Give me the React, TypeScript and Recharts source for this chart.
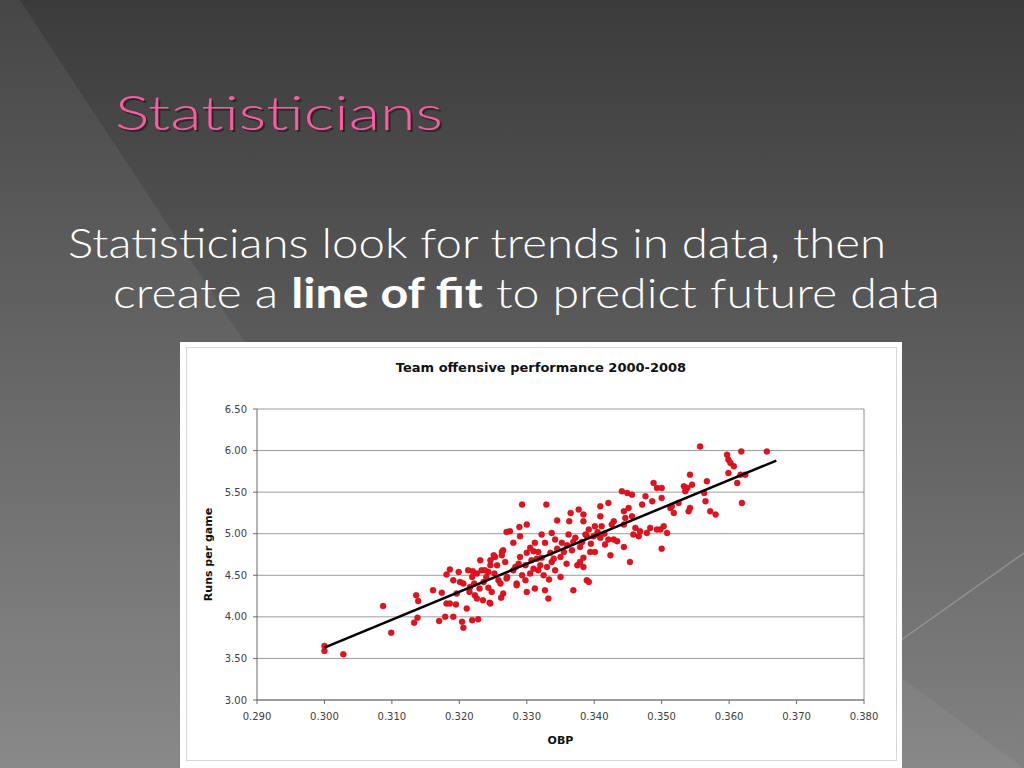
import { CartesianGrid, ReferenceLine, Scatter, ScatterChart, XAxis, YAxis } from "recharts";

// team OBP vs runs per game
const obp = [
  0.3, 0.3, 0.3028, 0.3087, 0.3099, 0.3136, 0.3139, 0.3138, 0.3133, 0.3161,
  0.317, 0.3174, 0.3181, 0.3186, 0.3181, 0.3186, 0.3179, 0.3191, 0.3199, 0.3191,
  0.3196, 0.3195, 0.3201, 0.3206, 0.3204, 0.3206, 0.3211, 0.3213, 0.3216, 0.3219,
  0.3219, 0.3223, 0.3226, 0.3228, 0.3226, 0.3231, 0.3233, 0.3236, 0.3243, 0.3245,
  0.3243, 0.3246, 0.3253, 0.3258, 0.3261, 0.3265, 0.3265, 0.3263, 0.3268, 0.3271,
  0.328, 0.3283, 0.3285, 0.3293, 0.3329, 0.3365, 0.3377, 0.3363, 0.3345, 0.33,
  0.3289, 0.3275, 0.327, 0.329, 0.3322, 0.3337, 0.3327, 0.3312, 0.331, 0.33,
  0.3305, 0.3317, 0.3322, 0.3335, 0.3337, 0.3342, 0.3352, 0.335, 0.3362, 0.3369,
  0.3379, 0.3367, 0.3359, 0.3375, 0.3379, 0.3389, 0.3369, 0.3389, 0.3392, 0.3401,
  0.3404, 0.3251, 0.3246, 0.3263, 0.3256, 0.3238, 0.327, 0.328, 0.3288, 0.3293,
  0.3285, 0.3298, 0.3305, 0.331, 0.3317, 0.3312, 0.3327, 0.3332, 0.333, 0.3342,
  0.3262, 0.3246, 0.33, 0.335, 0.3488, 0.3493, 0.3441, 0.3449, 0.3456, 0.3476,
  0.35, 0.3486, 0.3421, 0.3471, 0.3409, 0.3451, 0.3444, 0.3513, 0.3518, 0.3384,
  0.3409, 0.3456, 0.3429, 0.3446, 0.3384, 0.3401, 0.3411, 0.3426, 0.3444, 0.3461,
  0.3468, 0.3483, 0.3503, 0.3478, 0.3498, 0.3508, 0.3458, 0.3466, 0.3387, 0.3399,
  0.3409, 0.3421, 0.3429, 0.3416, 0.3434, 0.3394, 0.3424, 0.3444, 0.35, 0.3453,
  0.3384, 0.3384, 0.3493, 0.3557, 0.3618, 0.3656, 0.3597, 0.3599, 0.3602, 0.3607,
  0.3599, 0.3617, 0.3624, 0.3612, 0.3542, 0.3567, 0.3533, 0.3538, 0.3545, 0.3535,
  0.35, 0.3563, 0.3565, 0.3525, 0.3515, 0.3542, 0.354, 0.3572, 0.358, 0.3619,
  0.3392, 0.329, 0.3298, 0.3307, 0.3315, 0.332, 0.3325, 0.3333, 0.334, 0.3345,
  0.3355, 0.336, 0.3372, 0.3382, 0.3395, 0.3405, 0.3415, 0.3215, 0.3222, 0.323,
  0.324, 0.3248, 0.3235, 0.3252, 0.322,
];

const runs = [
  3.65, 3.59, 3.55, 4.13, 3.81, 4.26, 4.19, 3.99, 3.93, 4.32,
  3.95, 4.29, 4.51, 4.57, 4.16, 4.16, 4.0, 4.0, 4.54, 4.44,
  4.28, 4.15, 4.42, 4.4, 3.94, 3.87, 4.1, 4.56, 4.36, 4.48,
  3.96, 4.26, 4.22, 3.97, 4.52, 4.68, 4.56, 4.42, 4.35, 4.17,
  4.54, 4.62, 4.72, 4.44, 4.4, 4.28, 4.8, 4.74, 4.66, 4.48,
  4.89, 4.6, 4.4, 5.35, 5.35, 5.25, 5.29, 5.15, 5.16, 5.11,
  5.08, 5.03, 5.02, 4.97, 4.99, 5.01, 4.89, 4.89, 4.79, 4.77,
  4.83, 4.78, 4.71, 4.77, 4.66, 4.93, 4.89, 4.72, 4.99, 4.9,
  4.84, 4.8, 4.64, 4.62, 4.66, 4.44, 4.32, 4.97, 5.05, 4.78,
  4.99, 4.74, 4.68, 4.78, 4.62, 4.56, 4.46, 4.56, 4.64, 4.5,
  4.38, 4.44, 4.52, 4.58, 4.56, 4.34, 4.32, 4.22, 4.6, 4.56,
  4.23, 4.16, 4.3, 4.48, 5.61, 5.55, 5.51, 5.49, 5.47, 5.45,
  5.43, 5.39, 5.37, 5.35, 5.33, 5.31, 5.27, 5.31, 5.25, 5.23,
  5.21, 5.21, 5.15, 5.19, 5.15, 5.09, 5.09, 5.11, 5.11, 5.07,
  5.03, 5.07, 5.09, 5.01, 5.05, 5.01, 4.99, 4.97, 4.99, 4.97,
  4.95, 4.93, 4.93, 4.87, 4.91, 4.78, 4.74, 4.84, 4.82, 4.66,
  4.71, 4.6, 5.05, 6.05, 5.99, 5.99, 5.95, 5.89, 5.85, 5.81,
  5.73, 5.71, 5.71, 5.61, 5.71, 5.63, 5.57, 5.55, 5.59, 5.51,
  5.55, 5.49, 5.39, 5.37, 5.33, 5.31, 5.27, 5.27, 5.23, 5.37,
  4.42, 4.72, 4.62, 4.68, 4.7, 4.62, 4.5, 4.45, 4.7, 4.82,
  4.78, 4.86, 4.95, 4.9, 4.88, 5.02, 5.0, 4.3, 4.4, 4.34,
  4.48, 4.3, 4.2, 4.52, 4.55,
];

const fitObp = [0.3, 0.367];
const fitRuns = [3.63, 5.88];

const xTicks = [0.29, 0.3, 0.31, 0.32, 0.33, 0.34, 0.35, 0.36, 0.37, 0.38];
const yTicks = [3.0, 3.5, 4.0, 4.5, 5.0, 5.5, 6.0, 6.5];

const teamData = obp.map((x, i) => ({ x, y: runs[i] }));
const fitData = fitObp.map((x, i) => ({ x, y: fitRuns[i] }));

const tickStyle = { fontSize: 10, fill: "#404040", fontFamily: "DejaVu Sans" };

const Dot = (p: any) => <circle cx={p.cx} cy={p.cy} r={3} fill="#e8101c" stroke="#a8101a" strokeWidth={0.4} />;
const NoDot = () => <g />;

const YTitle = (p: any) => {
  const vb = p.viewBox;
  const cx = vb.x + 1;
  const cy = vb.y + vb.height / 2;
  return (
    <text x={cx} y={cy} transform={`rotate(-90, ${cx}, ${cy})`} textAnchor="middle" dominantBaseline="central"
      fontSize={11} fontWeight="bold" fontFamily="DejaVu Sans" fill="#111">
      Runs per game
    </text>
  );
};

const XTitle = (p: any) => {
  const vb = p.viewBox;
  return (
    <text x={vb.x + vb.width / 2} y={vb.y + 40} textAnchor="middle" dominantBaseline="central"
      fontSize={11} fontWeight="bold" fontFamily="DejaVu Sans" fill="#111">
      OBP
    </text>
  );
};

const Background = () => (
  <svg width={1024} height={768} style={{ position: "absolute", left: 0, top: 0 }}>
    <defs>
      <linearGradient id="bg" x1="0" y1="0" x2="0" y2="1">
        <stop offset="0%" stopColor="#3b3b3b" />
        <stop offset="100%" stopColor="#828282" />
      </linearGradient>
    </defs>
    <rect width={1024} height={768} fill="url(#bg)" />
    <polygon points="0,0 20,0 524,768 0,768" fill="#ffffff" opacity={0.06} />
    <polygon points="840,633 1024,768 840,768" fill="#ffffff" opacity={0.05} />
    <line x1={1024} y1={553} x2={880} y2={655} stroke="#ffffff" strokeOpacity={0.22} strokeWidth={1.5} />
    <text x={117} y={132} fontSize={47} fontFamily="Lato, 'Open Sans', sans-serif" fontWeight={300}
      fill="#1e1e1e" opacity={0.7} textLength={328} lengthAdjust="spacingAndGlyphs">
      Statisticians
    </text>
    <text x={115} y={130} fontSize={47} fontFamily="Lato, 'Open Sans', sans-serif" fontWeight={300}
      fill="#ff5aa6" textLength={328} lengthAdjust="spacingAndGlyphs">
      Statisticians
    </text>
    <text x={68} y={258} fontSize={42} fontFamily="Lato, 'Open Sans', sans-serif" fontWeight={300}
      fill="#ffffff" textLength={818} lengthAdjust="spacingAndGlyphs">
      Statisticians look for trends in data, then
    </text>
    <text x={113} y={308} fontSize={42} fontFamily="Lato, 'Open Sans', sans-serif" fontWeight={300}
      fill="#ffffff" textLength={827} lengthAdjust="spacingAndGlyphs">
      create a <tspan fontWeight="bold">line of fit</tspan> to predict future data
    </text>
  </svg>
);

export default function App() {
  return (
    <div style={{ position: "absolute", left: 0, top: 0, width: 1024, height: 768, overflow: "hidden" }}>
      <Background />
      <div style={{ position: "absolute", left: 180, top: 342, width: 722, height: 426, background: "#ffffff" }}>
        <div style={{ position: "absolute", left: 6, top: 5, width: 709, height: 412, border: "1px solid #d6d6d6" }} />
        <div style={{
          position: "absolute", left: 0, top: 18, width: 722, textAlign: "center",
          fontFamily: "DejaVu Sans", fontWeight: "bold", fontSize: 13, lineHeight: "16px", color: "#111",
        }}>
          Team offensive performance 2000-2008
        </div>
        <div style={{ position: "absolute", left: 0, top: 0 }}>
          <ScatterChart width={722} height={426} margin={{ top: 67, right: 38, bottom: 18, left: 27 }}>
            <CartesianGrid vertical={false} stroke="#9c9c9c" />
            <ReferenceLine x={0.38} stroke="#8c8c8c" />
            <XAxis type="number" dataKey="x" domain={[0.29, 0.38]} ticks={xTicks} height={50}
              tickFormatter={(v: number) => v.toFixed(3)} tick={tickStyle} tickSize={4} tickMargin={9}
              stroke="#6a6a6a" allowDataOverflow label={<XTitle />} />
            <YAxis type="number" dataKey="y" domain={[3, 6.5]} ticks={yTicks} width={50}
              tickFormatter={(v: number) => v.toFixed(2)} tick={tickStyle} tickSize={4} tickMargin={6}
              stroke="#6a6a6a" allowDataOverflow label={<YTitle />} />
            <Scatter data={teamData} shape={Dot} isAnimationActive={false} />
            <Scatter data={fitData} shape={NoDot} line={{ stroke: "#000000", strokeWidth: 2.5 }} isAnimationActive={false} />
          </ScatterChart>
        </div>
      </div>
    </div>
  );
}
